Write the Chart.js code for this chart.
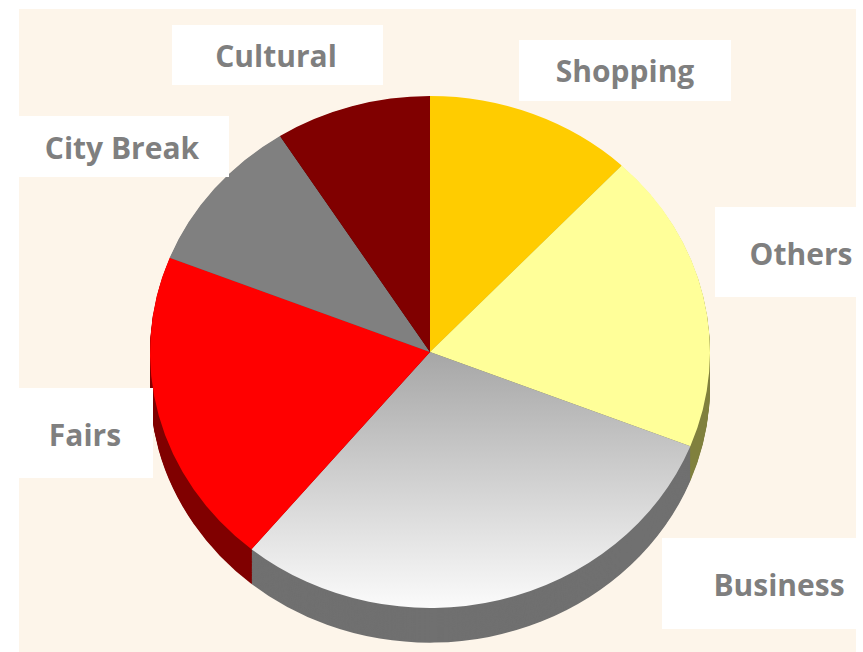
<!DOCTYPE html>
<html>
<head>
<meta charset="utf-8">
<script src="https://cdn.jsdelivr.net/npm/chart.js@4"></script>
<style>
  html, body { margin: 0; padding: 0; background: #ffffff; }
  #wrap { position: relative; width: 863px; height: 652px; overflow: hidden; }
  #bg { position: absolute; left: 19px; top: 9px; width: 837px; height: 643px; background: #fdf5ea; }
  #chart { position: absolute; left: 0; top: 0; }
  .box { position: absolute; background: #ffffff; }
  .lbl {
    position: absolute; color: #7f7f7f; white-space: nowrap;
    font-family: "Open Sans", sans-serif; font-weight: bold; font-size: 30px;
    transform: translate(-50%, -50%);
  }
</style>
</head>
<body>
<div id="wrap">
  <div id="bg"></div>
  <canvas id="chart" width="863" height="652"></canvas>
</div>
<script>
// data (share in %)
const categories = ['Shopping', 'Others', 'Business', 'Fairs', 'City Break', 'Cultural'];
const shares = [12, 19, 30, 20, 10, 9];

const topColors = ['#ffcc00', '#ffff99', null, '#ff0000', '#808080', '#800000'];
const sideColors = ['#b38f00', '#80803f', '#707070', '#800000', '#555555', '#400000'];

// label boxes: left, top, width, height, text centre x, text centre y
const boxes = {
    'Shopping': [519, 40, 212, 61, 625, 70],
    'Others': [715, 207, 141, 90, 801, 253],
    'Business': [662, 538, 194, 91, 779, 584],
    'Fairs': [19, 388, 134, 90, 85, 434],
    'City Break': [19, 116, 210, 61, 122, 147],
    'Cultural': [172, 25, 211, 60, 276, 55],
};

const squash = 0.914;   // pie is drawn a bit flattened
const depth = 38;       // thickness of the pie edge

// flatten the pie around its centre and give it an edge
const tiltPlugin = {
    id: 'tilt',
    beforeDatasetsDraw(chart) {
        const ctx = chart.ctx;
        const meta = chart.getDatasetMeta(0);
        const a0 = meta.data[0];
        ctx.save();
        ctx.translate(a0.x, a0.y);
        ctx.scale(1, squash);
        ctx.translate(-a0.x, -a0.y);
        for (let d = depth; d > 0; d--) {
            meta.data.forEach((arc, i) => {
                ctx.beginPath();
                ctx.moveTo(arc.x, arc.y + d);
                ctx.arc(arc.x, arc.y + d, arc.outerRadius, arc.startAngle, arc.endAngle);
                ctx.closePath();
                ctx.fillStyle = sideColors[i];
                ctx.fill();
            });
        }
    },
    afterDatasetsDraw(chart) {
        chart.ctx.restore();
    }
};

const ctx = document.getElementById('chart').getContext('2d');
new Chart(ctx, {
    type: 'pie',
    data: {
        labels: categories,
        datasets: [{
            data: shares,
            borderWidth: 0,
            backgroundColor: (c) => {
                if (c.dataIndex !== 2) return topColors[c.dataIndex];
                const area = c.chart.chartArea;
                if (!area) return '#cccccc';
                const cy = (area.top + area.bottom) / 2;
                const g = c.chart.ctx.createLinearGradient(0, cy, 0, area.bottom);
                g.addColorStop(0, '#a6a6a6');
                g.addColorStop(1, '#fbfbfb');
                return g;
            },
        }]
    },
    options: {
        responsive: false,
        animation: false,
        events: [],
        layout: { padding: { left: 150, right: 153, top: 72, bottom: 20 } },
        plugins: {
            legend: { display: false },
            tooltip: { enabled: false },
        },
    },
    plugins: [tiltPlugin]
});

// labels in white boxes
const wrap = document.getElementById('wrap');
categories.forEach(name => {
    const b = boxes[name];
    const box = document.createElement('div');
    box.className = 'box';
    box.style.left = b[0] + 'px';
    box.style.top = b[1] + 'px';
    box.style.width = b[2] + 'px';
    box.style.height = b[3] + 'px';
    wrap.appendChild(box);
    const el = document.createElement('div');
    el.className = 'lbl';
    el.textContent = name;
    el.style.left = b[4] + 'px';
    el.style.top = b[5] + 'px';
    wrap.appendChild(el);
});
</script>
</body>
</html>
